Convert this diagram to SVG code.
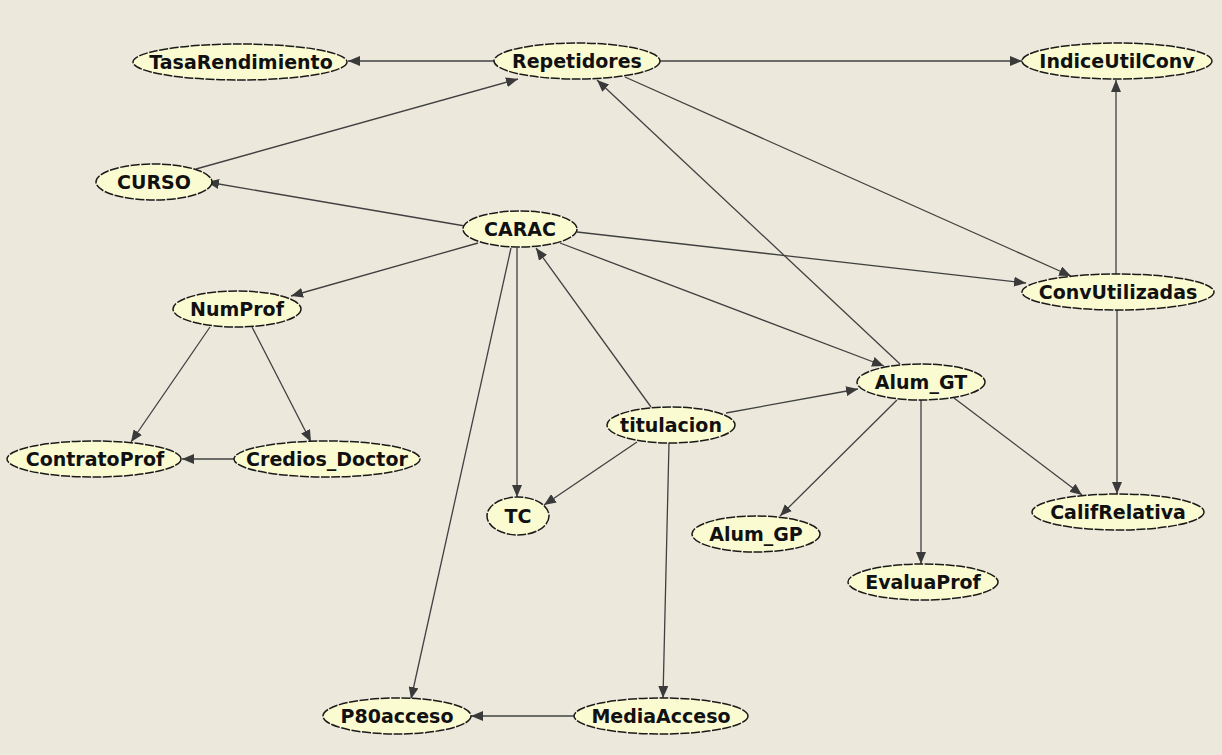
<svg xmlns="http://www.w3.org/2000/svg" width="1222" height="755" viewBox="0 0 1222 755">
  <style>
    .node ellipse { fill: #fbfbd2; stroke: #1a1a1a; stroke-width: 1.5; stroke-dasharray: 9 1.5; }
    .node text { font-family: "DejaVu Sans", "Liberation Sans", sans-serif; font-weight: bold; font-size: 19px; fill: #111; text-anchor: middle; dominant-baseline: central; }
    .edges line { stroke: #404040; stroke-width: 1.3; marker-end: url(#arrow); }
  </style>
  <defs>
    <marker id="arrow" viewBox="0 0 12 10" refX="12" refY="5" markerWidth="12" markerHeight="10" markerUnits="userSpaceOnUse" orient="auto">
      <path d="M0,0 L12,5 L0,10 Z" fill="#3a3a3a"/>
    </marker>
  </defs>
  <rect width="1222" height="755" fill="#ece9dc"/>

  <g class="edges">
    <line x1="494" y1="61" x2="348" y2="61"/>
    <line x1="660" y1="61" x2="1022" y2="61"/>
    <line x1="196" y1="169" x2="518" y2="79"/>
    <line x1="465" y1="226" x2="207" y2="182"/>
    <line x1="478" y1="243" x2="291" y2="296"/>
    <line x1="577" y1="232" x2="1026" y2="283"/>
    <line x1="560" y1="243" x2="884" y2="366"/>
    <line x1="517" y1="248" x2="517" y2="497"/>
    <line x1="511" y1="248" x2="411" y2="699"/>
    <line x1="651" y1="407" x2="536" y2="248"/>
    <line x1="726" y1="413" x2="858" y2="389"/>
    <line x1="637" y1="442" x2="544" y2="505"/>
    <line x1="669" y1="443" x2="663" y2="698"/>
    <line x1="575" y1="716" x2="471" y2="716"/>
    <line x1="900" y1="364" x2="597" y2="80"/>
    <line x1="625" y1="77" x2="1071" y2="276"/>
    <line x1="1116" y1="274" x2="1116" y2="80"/>
    <line x1="1117" y1="310" x2="1117" y2="494"/>
    <line x1="954" y1="398" x2="1082" y2="495"/>
    <line x1="897" y1="400" x2="780" y2="516"/>
    <line x1="921" y1="400" x2="921" y2="564"/>
    <line x1="210" y1="327" x2="131" y2="442"/>
    <line x1="252" y1="327" x2="311" y2="442"/>
    <line x1="236" y1="459" x2="182" y2="459"/>
  </g>

  <g id="TasaRendimiento" class="node"><ellipse cx="240" cy="62" rx="107" ry="18"/><text x="241" y="62">TasaRendimiento</text></g>
  <g id="Repetidores" class="node"><ellipse cx="577" cy="61" rx="83" ry="18"/><text x="577" y="61">Repetidores</text></g>
  <g id="IndiceUtilConv" class="node"><ellipse cx="1117" cy="61" rx="95" ry="18"/><text x="1117" y="61">IndiceUtilConv</text></g>
  <g id="CURSO" class="node"><ellipse cx="154" cy="182" rx="58" ry="18"/><text x="154" y="182">CURSO</text></g>
  <g id="CARAC" class="node"><ellipse cx="520" cy="229" rx="57" ry="18"/><text x="520" y="229">CARAC</text></g>
  <g id="NumProf" class="node"><ellipse cx="237" cy="309" rx="64" ry="18"/><text x="237" y="309">NumProf</text></g>
  <g id="ConvUtilizadas" class="node"><ellipse cx="1118" cy="292" rx="96" ry="18"/><text x="1118" y="292">ConvUtilizadas</text></g>
  <g id="Alum_GT" class="node"><ellipse cx="921" cy="382" rx="64" ry="18"/><text x="921" y="382">Alum_GT</text></g>
  <g id="titulacion" class="node"><ellipse cx="671" cy="425" rx="64" ry="18"/><text x="671" y="425">titulacion</text></g>
  <g id="ContratoProf" class="node"><ellipse cx="94" cy="459" rx="87" ry="18"/><text x="95" y="459">ContratoProf</text></g>
  <g id="Credios_Doctor" class="node"><ellipse cx="327" cy="459" rx="93" ry="18"/><text x="327" y="459">Credios_Doctor</text></g>
  <g id="TC" class="node"><ellipse cx="518" cy="516" rx="31" ry="19"/><text x="518" y="516">TC</text></g>
  <g id="Alum_GP" class="node"><ellipse cx="756" cy="534" rx="64" ry="18"/><text x="756" y="534">Alum_GP</text></g>
  <g id="CalifRelativa" class="node"><ellipse cx="1118" cy="512" rx="86" ry="18"/><text x="1118" y="512">CalifRelativa</text></g>
  <g id="EvaluaProf" class="node"><ellipse cx="923" cy="582" rx="75" ry="18"/><text x="923" y="582">EvaluaProf</text></g>
  <g id="P80acceso" class="node"><ellipse cx="397" cy="716" rx="74" ry="18"/><text x="397" y="716">P80acceso</text></g>
  <g id="MediaAcceso" class="node"><ellipse cx="661" cy="716" rx="87" ry="18"/><text x="661" y="716">MediaAcceso</text></g>
</svg>
